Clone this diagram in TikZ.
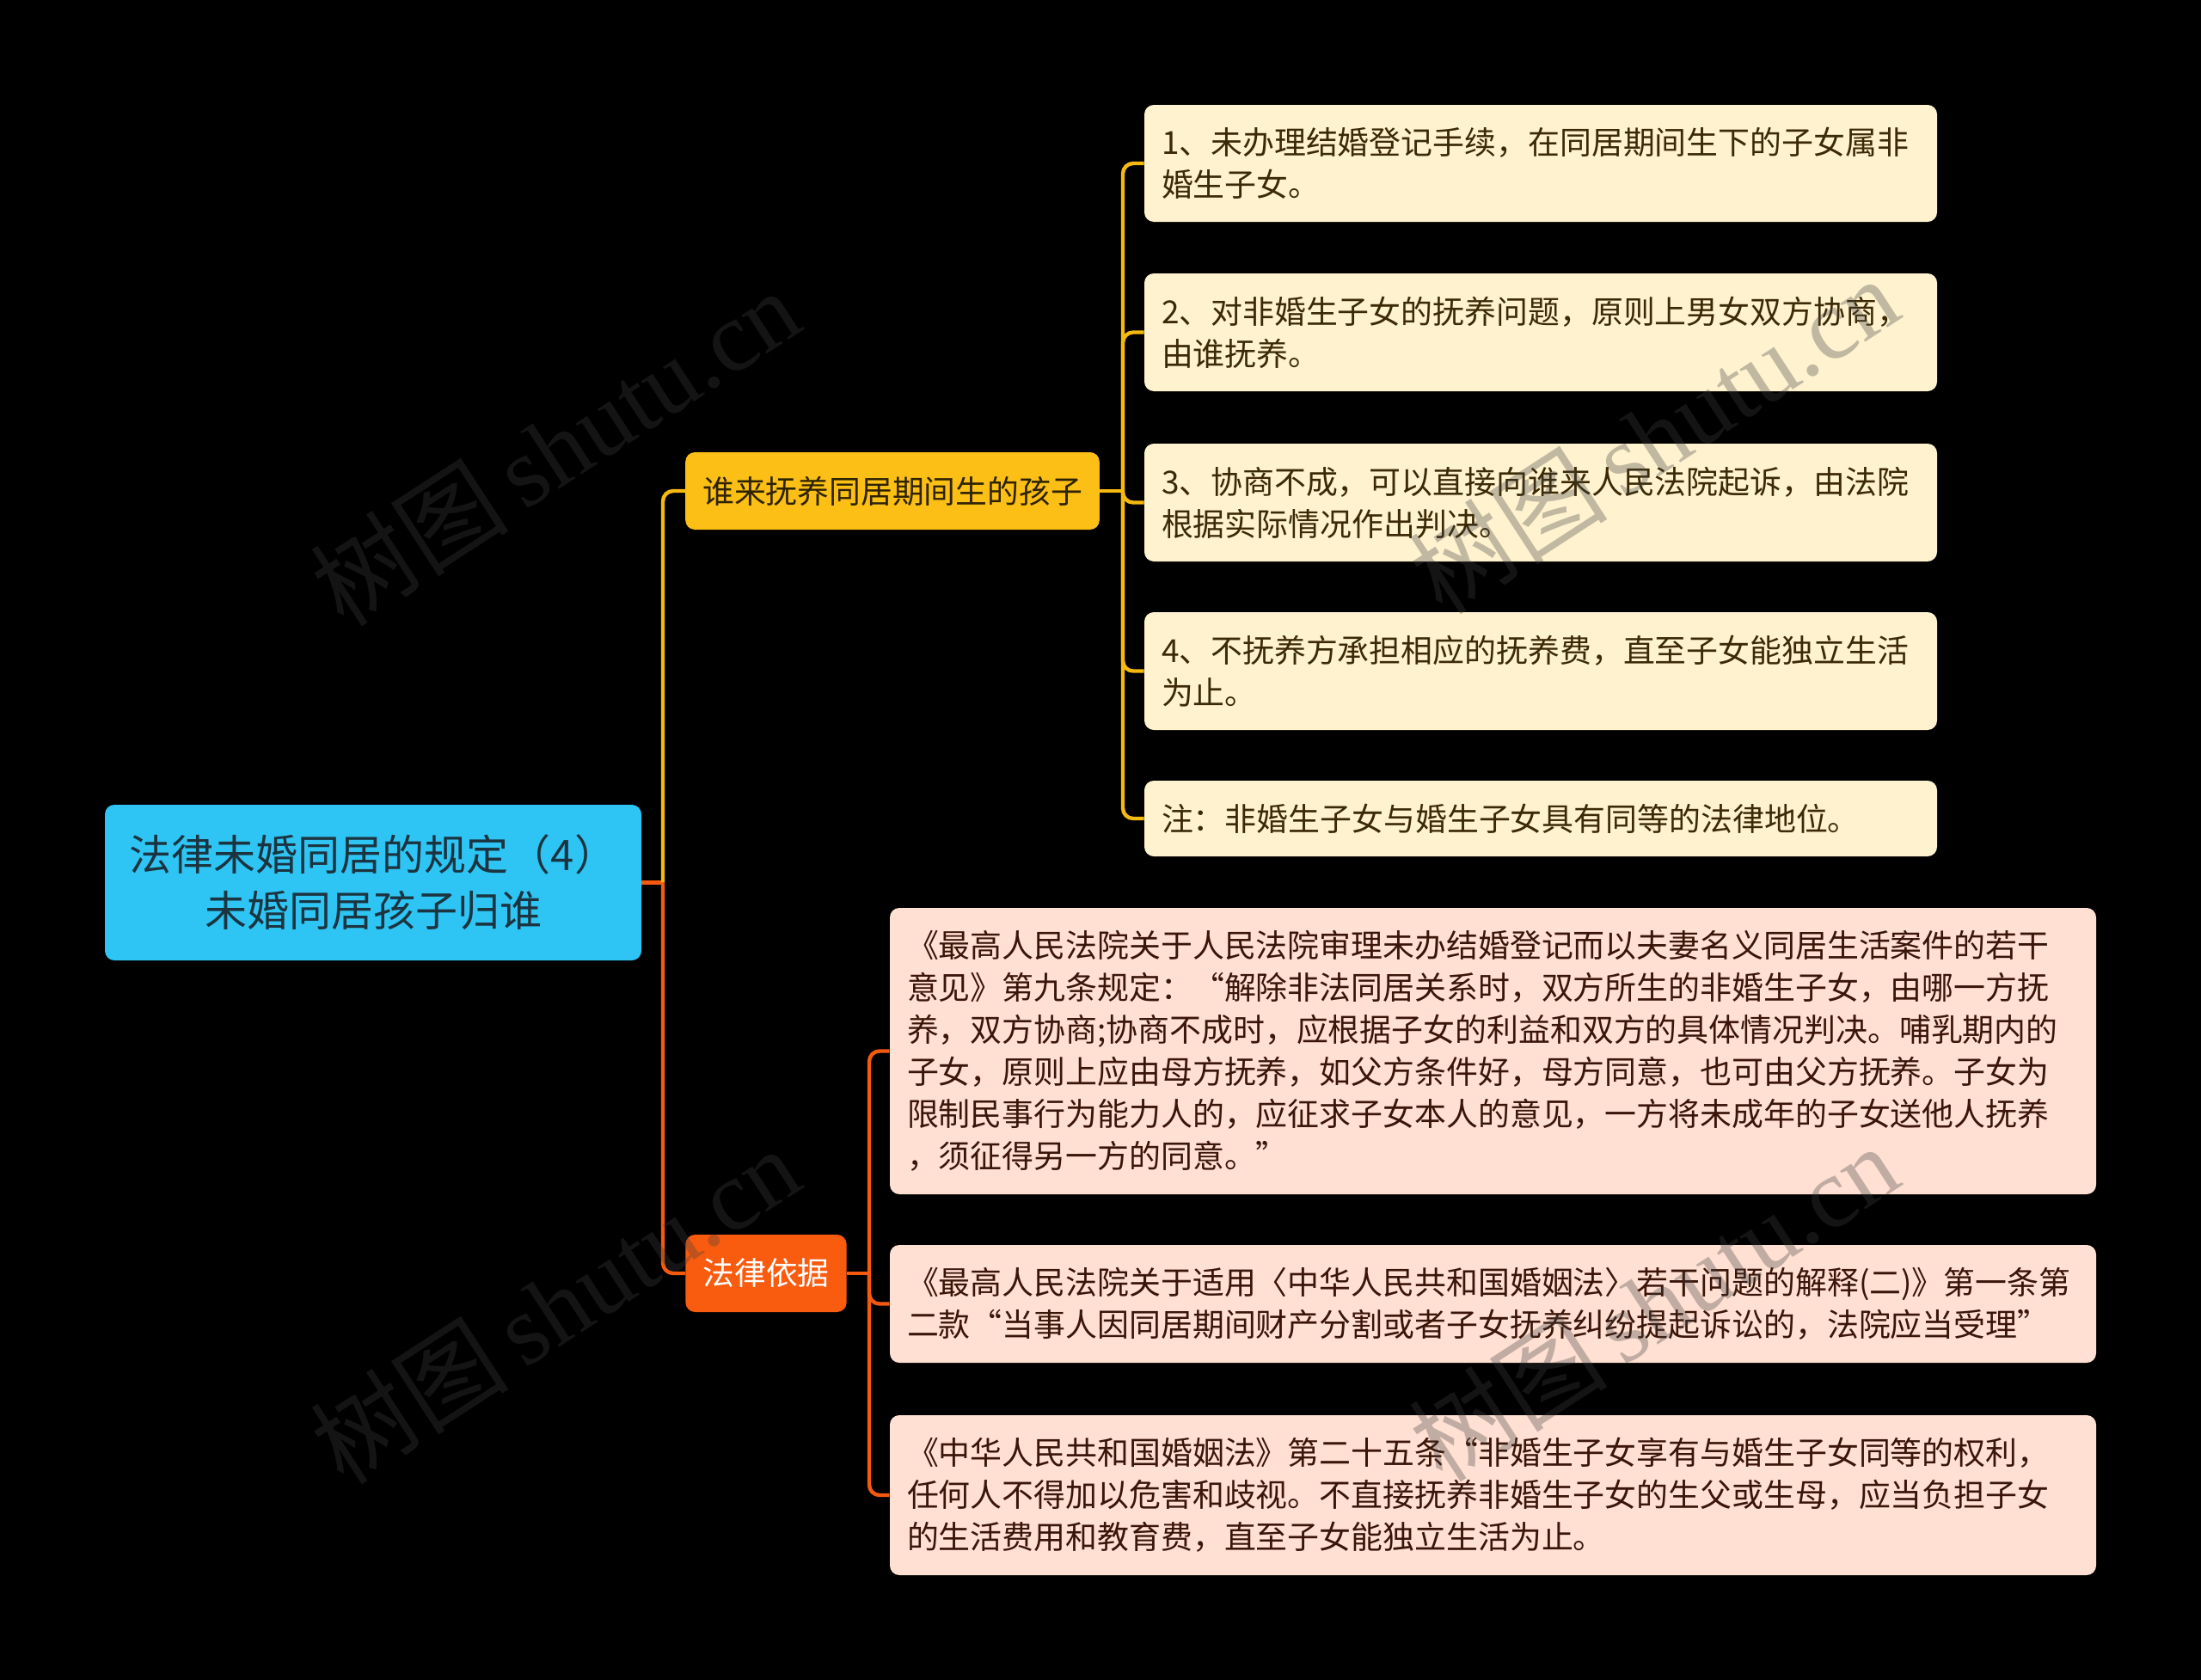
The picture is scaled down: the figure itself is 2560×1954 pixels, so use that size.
\documentclass[tikz,border=0pt]{standalone}
\usepackage{fontspec}
\setmainfont{Noto Sans CJK SC}
\newfontfamily\wmlatin{Liberation Serif}
\newfontfamily\wmcjk{Noto Sans CJK SC}
\definecolor{rootfill}{HTML}{2EC5F4}
\definecolor{roottext}{HTML}{1C3440}
\definecolor{b1fill}{HTML}{FBBF16}
\definecolor{b1text}{HTML}{2E2300}
\definecolor{b2fill}{HTML}{F95B0F}
\definecolor{yfill}{HTML}{FFF2CF}
\definecolor{ytext}{HTML}{3B2A05}
\definecolor{ofill}{HTML}{FFE0D2}
\definecolor{otext}{HTML}{3A1508}
\definecolor{yline}{HTML}{F5B90F}
\definecolor{oline}{HTML}{F35A10}
\definecolor{wmcol}{HTML}{404040}
\tikzset{
  box/.style={rounded corners=5.5pt, inner xsep=10pt, inner ysep=0pt, anchor=center},
  rootbox/.style={box, fill=rootfill, text=roottext, minimum width=312pt, minimum height=90.5pt,
     align=center, font=\fontsize{24.5}{32.5}\selectfont},
  branchbox/.style={box, minimum height=45pt, font=\fontsize{18.4}{24.5}\selectfont},
  yleaf/.style={box, fill=yfill, text=ytext, text width=441pt, align=left,
     font=\fontsize{18.45}{24.5}\selectfont},
  oleaf/.style={box, fill=ofill, text=otext, text width=681.5pt, align=left,
     font=\fontsize{18.45}{24.5}\selectfont},
  yconn/.style={draw=yline, line width=2.2pt, rounded corners=6pt},
  oconn/.style={draw=oline, line width=2.2pt, rounded corners=6pt},
  wm/.style={text=wmcol, opacity=0.32, rotate=33, inner sep=0pt}
}
\begin{document}
\begin{tikzpicture}[x=0.5pt, y=-0.5pt]
\fill[black] (0,0) rectangle (2560,1954);
\useasboundingbox (0,0) rectangle (2560,1954);

% nodes
\node[rootbox] (root) at (434,1026.5) {法律未婚同居的规定（4）\\未婚同居孩子归谁};
\node[branchbox, fill=b1fill, text=b1text, minimum width=240pt] (b1) at (1038,571) {谁来抚养同居期间生的孩子};
\node[branchbox, fill=b2fill, text=white, minimum width=93pt] (b2) at (891,1481) {法律依据};

\node[yleaf, minimum height=68pt] (l1) at (1792,190) {1、未办理结婚登记手续，在同居期间生下的子女属非\\婚生子女。};
\node[yleaf, minimum height=68.5pt] (l2) at (1792,386.5) {2、对非婚生子女的抚养问题，原则上男女双方协商，\\由谁抚养。};
\node[yleaf, minimum height=68.5pt] (l3) at (1792,584.5) {3、协商不成，可以直接向谁来人民法院起诉，由法院\\根据实际情况作出判决。};
\node[yleaf, minimum height=68.5pt] (l4) at (1792,780.5) {4、不抚养方承担相应的抚养费，直至子女能独立生活\\为止。};
\node[yleaf, minimum height=44pt] (l5) at (1792,952) {注：非婚生子女与婚生子女具有同等的法律地位。};

\node[oleaf, minimum height=166.5pt] (l6) at (1736.5,1222.5) {《最高人民法院关于人民法院审理未办结婚登记而以夫妻名义同居生活案件的若干\\意见》第九条规定：“解除非法同居关系时，双方所生的非婚生子女，由哪一方抚\\养，双方协商;协商不成时，应根据子女的利益和双方的具体情况判决。哺乳期内的\\子女，原则上应由母方抚养，如父方条件好，母方同意，也可由父方抚养。子女为\\限制民事行为能力人的，应征求子女本人的意见，一方将未成年的子女送他人抚养\\，须征得另一方的同意。”};
\node[oleaf, minimum height=68.5pt] (l7) at (1736.5,1516.5) {《最高人民法院关于适用〈中华人民共和国婚姻法〉若干问题的解释(二)》第一条第\\二款“当事人因同居期间财产分割或者子女抚养纠纷提起诉讼的，法院应当受理”};
\node[oleaf, minimum height=93pt] (l8) at (1736.5,1739) {《中华人民共和国婚姻法》第二十五条“非婚生子女享有与婚生子女同等的权利，\\任何人不得加以危害和歧视。不直接抚养非婚生子女的生父或生母，应当负担子女\\的生活费用和教育费，直至子女能独立生活为止。};

% junction coordinates
\coordinate (j0) at (771,1026.5);
\coordinate (j1) at (1306,571);
\coordinate (j2) at (1011,1481);

% root connectors
\draw[oconn, rounded corners=0pt] (root.east) -- (j0);
\draw[yconn] (j0) -- (j0 |- b1.west) -- (b1.west);
\draw[oconn] (j0) -- (j0 |- b2.west) -- (b2.west);

% branch 1 connectors
\draw[yconn, rounded corners=0pt] (b1.east) -- (j1);
\foreach \l in {l1,l2,l3,l4,l5}{
  \draw[yconn] (j1) -- (j1 |- \l.west) -- (\l.west);
}
% branch 2 connectors
\draw[oconn, rounded corners=0pt] (b2.east) -- (j2);
\foreach \l in {l6,l7,l8}{
  \draw[oconn] (j2) -- (j2 |- \l.west) -- (\l.west);
}

% watermarks
\foreach \p/\n in {{(645,520)}/w1,{(1923,506)}/w2,{(645,1518)}/w3,{(1923,1515)}/w4}{
  \node[wm] (\n) at \p {\wmcjk\fontsize{58}{58}\selectfont 树图\,\wmlatin shutu.cn};
}
\end{tikzpicture}
\end{document}
